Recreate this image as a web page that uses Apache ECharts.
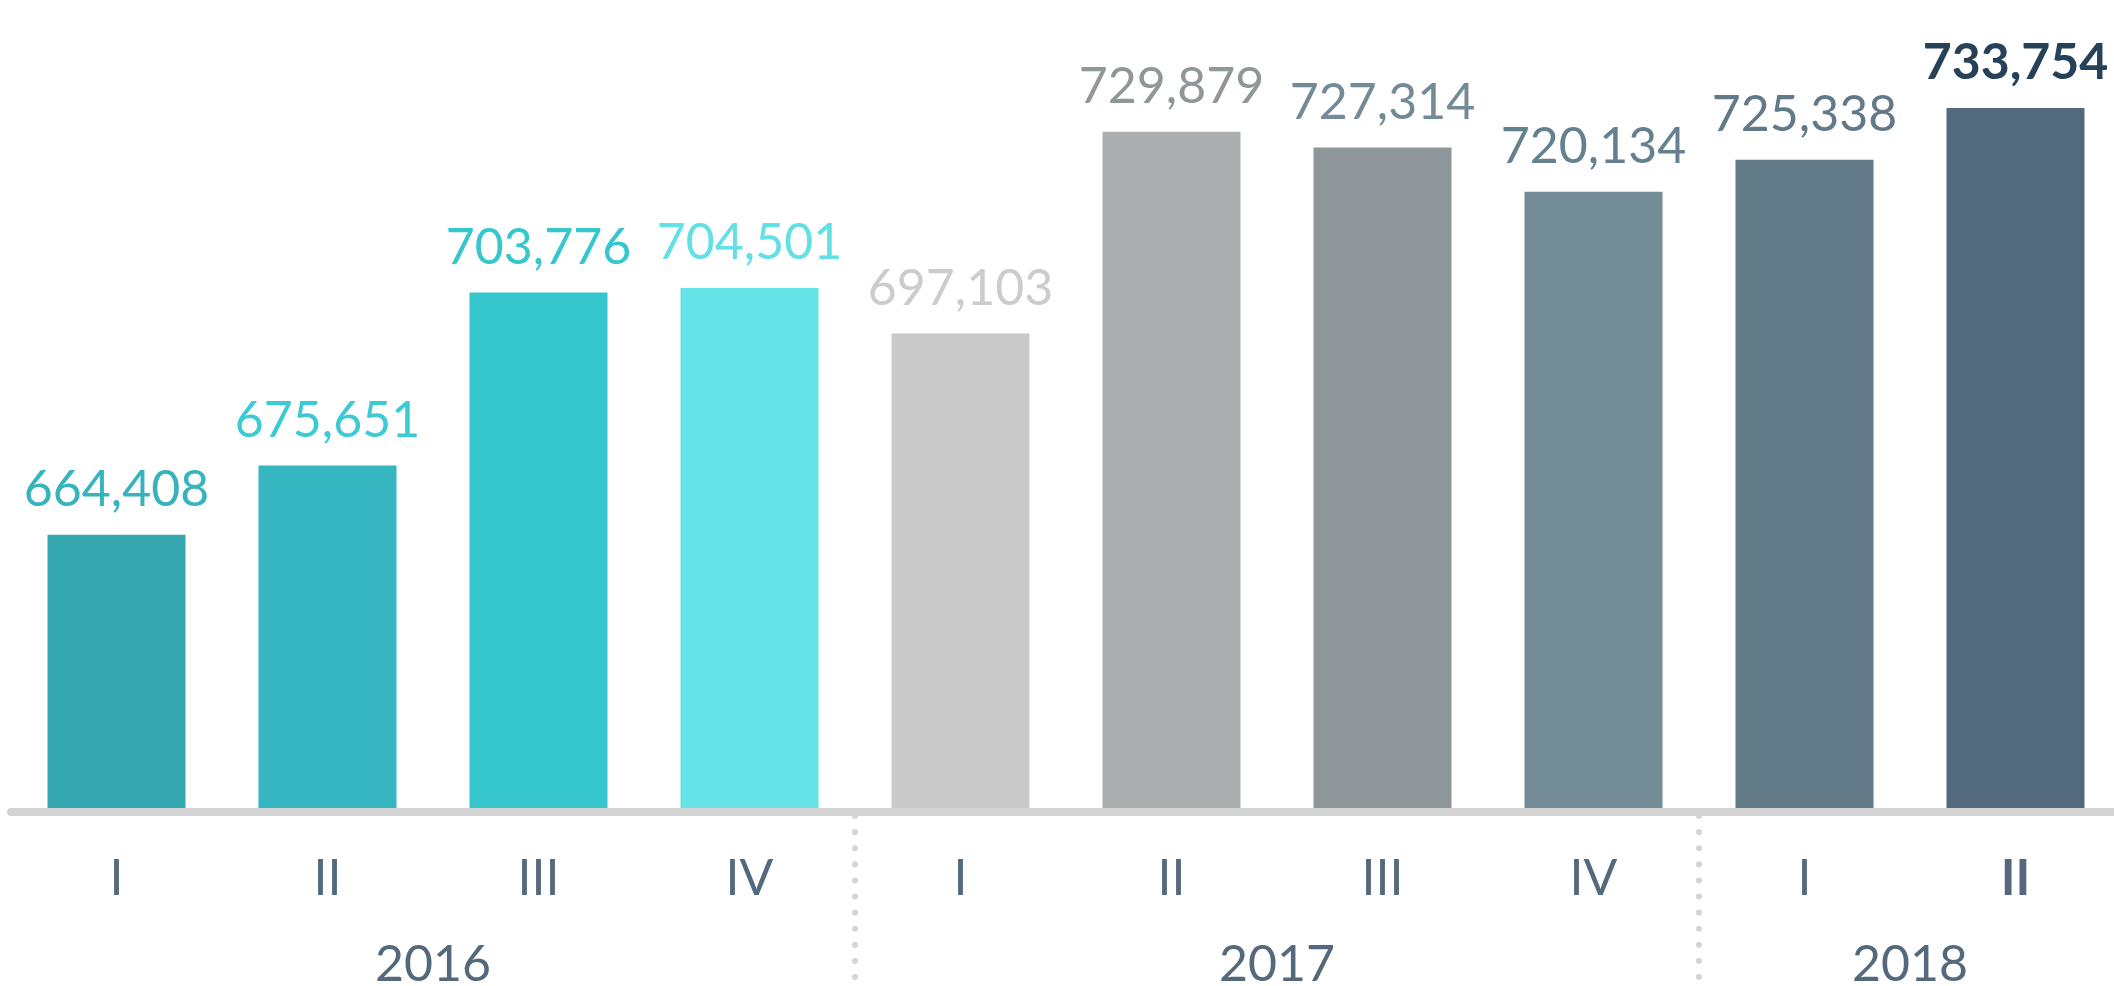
<!DOCTYPE html>
<html>
<head>
<meta charset="utf-8">
<script src="https://cdn.jsdelivr.net/npm/echarts@6/dist/echarts.min.js"></script>
<style>
  html, body { margin: 0; padding: 0; background: #fff; }
  #chart { width: 2114px; height: 986px; }
</style>
</head>
<body>
<div id="chart"></div>
<script>
  // quarterly values
  const quarters = ['I', 'II', 'III', 'IV', 'I', 'II', 'III', 'IV', 'I', 'II']
  const values = [664408, 675651, 703776, 704501, 697103, 729879, 727314, 720134, 725338, 733754]
  const years = ['2016', '2017', '2018']
  const quartersPerYear = [4, 4, 2]

  const barColors = ['#34a6af', '#35b6c1', '#35c6ce', '#65e3e6', '#c9c9c9',
    '#aaaeaf', '#8e9699', '#738a97', '#627a87', '#53697d']
  const labelColors = ['#37b3bd', '#3ccbd4', '#35c6ce', '#62e0e5', '#cccccc',
    '#8f9799', '#738a97', '#658190', '#627a88', '#264259']

  // year labels + separators sit on band boundaries (n + 1 points)
  const yearAxisData = new Array(quarters.length + 1).fill('')
  const separators = []
  let start = 0
  years.forEach((y, i) => {
    yearAxisData[start + quartersPerYear[i] / 2] = y
    start += quartersPerYear[i]
    if (start < quarters.length) separators.push(start)
  })

  const last = values.length - 1
  const chart = echarts.init(document.getElementById('chart'))
  chart.setOption({
    animation: false,
    textStyle: { fontFamily: 'Lato' },
    grid: { left: 11, width: 2110, top: 0, bottom: 178, outerBoundsMode: 'none', containLabel: false },
    xAxis: [{
      type: 'category',
      position: 'bottom',
      data: quarters.map((q, i) => i === last
        ? { value: q, textStyle: { fontWeight: 'bold' } }
        : q),
      offset: 4,
      axisLine: { lineStyle: { color: '#d4d4d4', width: 8, cap: 'round' } },
      axisTick: { show: false },
      axisLabel: { color: '#546a7c', fontSize: 50, margin: 42, interval: 0 }
    }, {
      type: 'category',
      position: 'bottom',
      boundaryGap: false,
      data: yearAxisData,
      offset: 8,
      axisLine: { show: false },
      axisTick: {
        show: true,
        length: 172,
        interval: (idx) => separators.indexOf(idx) >= 0,
        lineStyle: { color: '#d5d5d5', width: 6, type: [0.1, 16], cap: 'round' }
      },
      axisLabel: { color: '#546a7c', fontSize: 50, margin: 124, interval: 0 }
    }],
    yAxis: {
      type: 'value',
      min: 620000,
      max: 751300,
      show: false
    },
    series: [{
      type: 'bar',
      xAxisIndex: 0,
      barWidth: 138,
      data: values.map((v, i) => ({
        value: v,
        itemStyle: { color: barColors[i] },
        label: {
          color: labelColors[i],
          fontWeight: i === last ? 'bold' : 'normal'
        }
      })),
      label: {
        show: true,
        position: 'top',
        distance: 20,
        fontSize: 50,
        fontFamily: 'Lato',
        formatter: (p) => p.value.toLocaleString('en-US')
      }
    }]
  })
</script>
</body>
</html>
